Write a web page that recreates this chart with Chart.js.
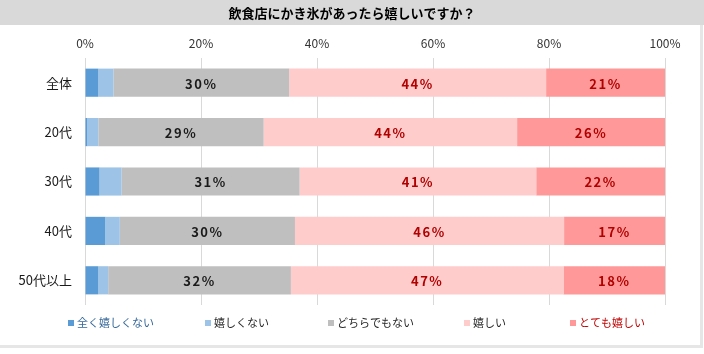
<!DOCTYPE html>
<html>
<head>
<meta charset="utf-8">
<script src="https://cdn.jsdelivr.net/npm/chart.js@4.4.0/dist/chart.umd.min.js"></script>
<style>
body{margin:0;background:#fff}
</style>
</head>
<body>
<canvas id="grafica" width="704" height="354"></canvas>
<script>
var categorias = ['全体', '20代', '30代', '40代', '50代以上'];
var series = ['全く嬉しくない', '嬉しくない', 'どちらでもない', '嬉しい', 'とても嬉しい'];
var nadaContento = [2.3, 0.4, 2.5, 3.5, 2.3];
var noContento = [2.6, 1.9, 3.8, 2.5, 1.7];
var neutral = [30.3, 28.5, 30.7, 30.2, 31.5];
var contento = [44.3, 43.7, 40.8, 46.4, 47.0];
var muyContento = [20.5, 25.5, 22.2, 17.4, 17.5];
var ticksX = [0, 20, 40, 60, 80, 100];
var titulo = '飲食店にかき氷があったら嬉しいですか？';

var colores = ['#5b9bd5', '#9dc3e6', '#bfbfbf', '#ffcccc', '#ff9999'];
var coloresTextoLeyenda = ['#34679a', '#262626', '#262626', '#262626', '#c00000'];
var xLeyenda = [68, 205, 328, 464, 570];
var fuente = '"Noto Sans CJK JP", "Noto Sans", sans-serif';

// fondo, banda del titulo y marco
var fondo = {
    id: 'fondo',
    beforeDraw: function (chart) {
        var ctx = chart.ctx;
        ctx.save();
        ctx.fillStyle = '#fff';
        ctx.fillRect(0, 0, chart.width, chart.height);
        ctx.fillStyle = '#d9d9d9';
        ctx.fillRect(0, 0, chart.width, 25);
        ctx.fillStyle = '#000';
        ctx.font = 'bold 13px ' + fuente;
        ctx.textAlign = 'center';
        ctx.textBaseline = 'middle';
        ctx.fillText(titulo, chart.width / 2, 13);
        ctx.strokeStyle = '#e6e6e6';
        ctx.lineWidth = 3;
        ctx.beginPath();
        ctx.moveTo(0, 346.5);
        ctx.lineTo(701.5, 346.5);
        ctx.lineTo(701.5, 25);
        ctx.stroke();
        ctx.restore();
    }
};

// porcentajes dentro de las barras
var etiquetas = {
    id: 'etiquetas',
    afterDatasetsDraw: function (chart) {
        var ctx = chart.ctx;
        ctx.save();
        ctx.font = 'bold 13px ' + fuente;
        ctx.textAlign = 'center';
        ctx.textBaseline = 'middle';
        ctx.letterSpacing = '1.5px';
        [2, 3, 4].forEach(function (i) {
            var meta = chart.getDatasetMeta(i);
            var valores = chart.data.datasets[i].data;
            ctx.fillStyle = i == 2 ? '#1a1a1a' : '#b00000';
            meta.data.forEach(function (bar, j) {
                var cx = (bar.x + bar.base) / 2;
                ctx.fillText(Math.round(valores[j]) + '%', cx, bar.y + 1);
            });
        });
        ctx.restore();
    }
};

// leyenda abajo
var leyenda = {
    id: 'leyenda',
    afterDraw: function (chart) {
        var ctx = chart.ctx;
        ctx.save();
        ctx.font = '11px ' + fuente;
        ctx.textBaseline = 'middle';
        ctx.textAlign = 'left';
        chart.data.datasets.forEach(function (ds, i) {
            var x = xLeyenda[i];
            ctx.fillStyle = ds.backgroundColor;
            ctx.fillRect(x, 320, 6, 6);
            ctx.fillStyle = coloresTextoLeyenda[i];
            ctx.fillText(ds.label, x + 9, 323);
        });
        ctx.restore();
    }
};

var valoresSeries = [nadaContento, noContento, neutral, contento, muyContento];
var datasets = series.map(function (nombre, i) {
    return {
        label: nombre,
        data: valoresSeries[i],
        backgroundColor: colores[i],
        borderWidth: 0,
        categoryPercentage: 1,
        barPercentage: 0.57
    };
});

var mychart = new Chart(document.getElementById('grafica'), {
    type: 'bar',
    data: {
        labels: categorias,
        datasets: datasets
    },
    options: {
        indexAxis: 'y',
        responsive: false,
        animation: false,
        layout: {
            padding: { top: 28, right: 39, bottom: 49, left: 0 }
        },
        plugins: {
            legend: { display: false },
            tooltip: { enabled: false }
        },
        scales: {
            x: {
                position: 'top',
                stacked: true,
                min: ticksX[0],
                max: ticksX[ticksX.length - 1],
                grid: { color: '#d9d9d9', drawTicks: false },
                border: { display: false },
                ticks: {
                    stepSize: ticksX[1] - ticksX[0],
                    padding: 7,
                    color: '#333',
                    font: { size: 12, family: fuente },
                    callback: function (v) { return v + '%'; }
                },
                afterFit: function (scale) { scale.height = 30; }
            },
            y: {
                stacked: true,
                grid: { display: false },
                border: { display: false },
                ticks: {
                    padding: 5,
                    color: '#1a1a1a',
                    font: { size: 13, family: fuente }
                },
                afterFit: function (scale) { scale.width = 85; }
            }
        }
    },
    plugins: [fondo, etiquetas, leyenda]
});
</script>
</body>
</html>
